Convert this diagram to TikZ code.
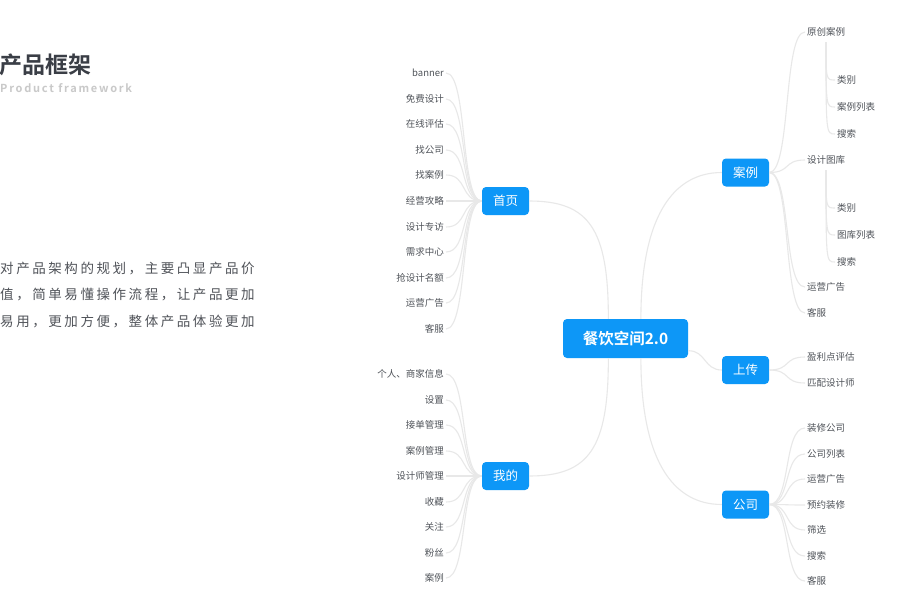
\documentclass[tikz,border=0pt]{standalone}
\usepackage{fontspec}
\setmainfont{Noto Sans CJK SC}[BoldFont={Noto Sans CJK SC Bold}]
\newfontfamily\titlefont{Noto Sans CJK SC Bold}
\newfontfamily\introfont{Noto Sans CJK SC}[LetterSpace=19]
\newfontfamily\enfont{Noto Sans CJK SC Bold}[LetterSpace=16]
\definecolor{hub}{HTML}{0D97F7}
\definecolor{twig}{HTML}{E8E8E8}
\definecolor{leaftext}{HTML}{50545A}
\definecolor{heading}{HTML}{3A3E46}
\definecolor{subheading}{HTML}{C9C9C9}
\definecolor{introtext}{HTML}{505359}
\tikzset{
  root/.style={fill=hub,rounded corners=4pt,minimum width=125pt,minimum height=39pt,
    inner sep=0pt,text=white,font=\bfseries\fontsize{15.5}{18}\selectfont},
  branch/.style={fill=hub,rounded corners=4pt,minimum width=47pt,minimum height=28pt,
    inner sep=0pt,text=white,font=\fontsize{12.5}{15}\selectfont},
  leafL/.style={anchor=east,inner xsep=2pt,inner ysep=1pt,text=leaftext,
    font=\fontsize{9.5}{11}\selectfont},
  leafR/.style={leafL,anchor=west},
  link/.style={draw=twig,line width=1.1pt}
}

\begin{document}
\begin{tikzpicture}[x=1pt,y=-1pt]
  \useasboundingbox[fill=white] (0,0) rectangle (911,600);
  % heading and intro
  \node[anchor=west,inner sep=0pt,text=heading,font=\titlefont\fontsize{23}{25}\selectfont] (title) at (-1,65) {产品框架};
  \node[anchor=west,inner sep=0pt,text=subheading,font=\enfont\fontsize{11}{13}\selectfont] (subtitle) at (0,88) {Product framework};
  \node[anchor=north west,inner sep=0pt,align=left,text=introtext,
    font=\introfont\fontsize{13.5}{26.5}\selectfont] (intro) at (0,261.5)
    {对产品架构的规划，主要凸显产品价\\值，简单易懂操作流程，让产品更加\\易用，更加方便，整体产品体验更加};
  % main nodes
  \node[root] (root) at (625.5,338.5) {餐饮空间2.0};
  \node[branch] (home) at (505.5,201) {首页};
  \node[branch] (mine) at (505.5,476) {我的};
  \node[branch] (cases) at (745.5,172.5) {案例};
  \node[branch] (upload) at (745.5,370) {上传};
  \node[branch] (company) at (745.5,504.5) {公司};
  \draw[link] (root.131.6) .. controls +(0,-90) and +(60,0) .. (home.east);
  \draw[link] (root.-131.6) .. controls +(0,90) and +(60,0) .. (mine.east);
  \draw[link] (root.52.4) .. controls +(0,-100) and +(-50,0) .. (cases.west);
  \draw[link] (root.-11) .. controls +(18,0) and +(-18,0) .. (upload.west);
  \draw[link] (root.-52.4) .. controls +(0,100) and +(-50,0) .. (company.west);
  % home
  \foreach \txt/\yy [count=\i] in {banner/73,免费设计/99,在线评估/124,找公司/150,找案例/175,
      经营攻略/201,设计专访/227,需求中心/252,抢设计名额/278,运营广告/303,客服/329} {
    \node[leafL] (h\i) at (446,\yy) {\txt};
    \draw[link] (h\i.east) .. controls +(22,0) and +(-22,0) .. (home.west);
  }
  % mine
  \foreach \txt/\yy [count=\i] in {个人、商家信息/374,设置/400,接单管理/425,案例管理/451,
      设计师管理/476,收藏/502,关注/527,粉丝/553,案例/578} {
    \node[leafL] (m\i) at (446,\yy) {\txt};
    \draw[link] (m\i.east) .. controls +(22,0) and +(-22,0) .. (mine.west);
  }
  % cases
  \foreach \txt/\yy [count=\i] in {原创案例/32,设计图库/160,运营广告/287,客服/313} {
    \node[leafR] (c\i) at (805,\yy) {\txt};
    \draw[link] (c\i.west) .. controls +(-22,0) and +(22,0) .. (cases.east);
  }
  \coordinate (c1-stem) at (826,42);
  \coordinate (c2-stem) at (826,170);
  \foreach \txt/\yy [count=\i] in {类别/80,案例列表/107,搜索/134} {
    \node[leafR] (ca\i) at (835,\yy) {\txt};
    \draw[link] (c1-stem) .. controls (c1-stem |- ca\i.west) .. (ca\i.west);
  }
  \foreach \txt/\yy [count=\i] in {类别/208,图库列表/235,搜索/262} {
    \node[leafR] (cb\i) at (835,\yy) {\txt};
    \draw[link] (c2-stem) .. controls (c2-stem |- cb\i.west) .. (cb\i.west);
  }
  % upload
  \foreach \txt/\yy [count=\i] in {盈利点评估/357,匹配设计师/383} {
    \node[leafR] (u\i) at (805,\yy) {\txt};
    \draw[link] (u\i.west) .. controls +(-22,0) and +(22,0) .. (upload.east);
  }
  % company
  \foreach \txt/\yy [count=\i] in {装修公司/428,公司列表/454,运营广告/479,预约装修/505,
      筛选/530,搜索/556,客服/581} {
    \node[leafR] (g\i) at (805,\yy) {\txt};
    \draw[link] (g\i.west) .. controls +(-22,0) and +(22,0) .. (company.east);
  }
\end{tikzpicture}
\end{document}
